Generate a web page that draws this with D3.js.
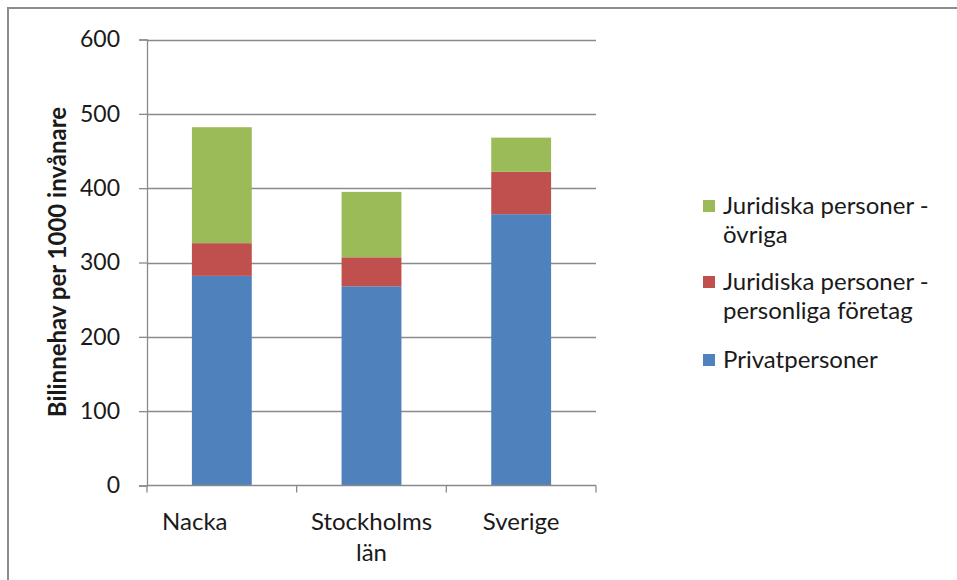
<!DOCTYPE html>
<html>
<head>
<meta charset="utf-8">
<script src="https://cdn.jsdelivr.net/npm/d3@7"></script>
<style>
  html, body { margin: 0; padding: 0; background: #ffffff; }
  svg { display: block; }
  text { font-family: Lato, "Open Sans", sans-serif; fill: #1a1a1a; }
</style>
</head>
<body>
<svg id="chart" width="957" height="580"></svg>
<script>
// ---- data ----
const categories = ["Nacka", "Stockholms län", "Sverige"];
const seriesNames = ["Privatpersoner", "Juridiska personer - personliga företag", "Juridiska personer - övriga"];
const privatpersoner = [282, 268, 365];
const personligaForetag = [44, 39, 57];
const ovriga = [156, 88, 46];
const yTicks = [0, 100, 200, 300, 400, 500, 600];
const yTitle = "Bilinnehav per 1000 invånare";
const colors = ["#4F81BD", "#C0504D", "#9BBB59"];

const seriesValues = [privatpersoner, personligaForetag, ovriga];
const table = categories.map((c, i) => {
  const row = { category: c };
  seriesNames.forEach((s, k) => row[s] = seriesValues[k][i]);
  return row;
});

const svg = d3.select("#chart");

// frame
svg.append("rect").attr("x", 8).attr("y", 8).attr("width", 1000).attr("height", 1000)
  .attr("fill", "none").attr("stroke", "#8c8c8c").attr("stroke-width", 2);

const plot = { left: 147, right: 596, top: 39.5, bottom: 485.5 };

const x = d3.scaleBand().domain(categories).range([plot.left, plot.right]).padding(0);
const y = d3.scaleLinear().domain([0, 600]).range([plot.bottom, plot.top]);

// gridlines
svg.append("g").selectAll("line").data(yTicks.filter(t => t > 0)).join("line")
  .attr("x1", plot.left).attr("x2", plot.right)
  .attr("y1", d => Math.round(y(d)) + 0.5).attr("y2", d => Math.round(y(d)) + 0.5)
  .attr("stroke", "#8a8a8a").attr("stroke-width", 1.3);

// stacked bars
const stack = d3.stack().keys(seriesNames);
const stacked = stack(table);
const barW = x.bandwidth() * 0.4;
svg.append("g").selectAll("g").data(stacked).join("g")
  .attr("fill", (d, i) => colors[i])
  .selectAll("rect").data(d => d).join("rect")
  .attr("x", d => x(d.data.category) + (x.bandwidth() - barW) / 2)
  .attr("width", barW)
  .attr("y", d => y(d[1]))
  .attr("height", d => y(d[0]) - y(d[1]));

// y axis
const yAxis = d3.axisLeft(y).tickValues(yTicks).tickSize(8).tickPadding(19).tickFormat(d3.format("d"));
const gy = svg.append("g").attr("transform", `translate(${plot.left},0)`).call(yAxis);
gy.select(".domain").attr("stroke", "#8a8a8a").attr("stroke-width", 1.3);
gy.selectAll(".tick line").attr("stroke", "#8a8a8a").attr("stroke-width", 1.3);
gy.selectAll(".tick text").style("font-size", "23px").style("font-family", "Lato, sans-serif").attr("fill", "#1a1a1a");

// x axis
const xAxis = d3.axisBottom(x).tickSize(0).tickFormat("");
const gx = svg.append("g").attr("transform", `translate(0,${plot.bottom})`).call(xAxis);
gx.select(".domain").attr("stroke", "#8a8a8a").attr("stroke-width", 1.3).attr("d", `M${plot.left},0H${plot.right}`);
gx.selectAll(".tick").remove();
const boundaries = categories.map(c => x(c)).concat([x(categories[categories.length - 1]) + x.bandwidth()]);
gx.selectAll("line.bound").data(boundaries).join("line").attr("class", "bound")
  .attr("x1", d => d).attr("x2", d => d).attr("y1", 0).attr("y2", 7)
  .attr("stroke", "#8a8a8a").attr("stroke-width", 1.3);

// category labels (wrapped)
const labelOffsets = { "Nacka": -27 };
const catG = svg.append("g");
categories.forEach(c => {
  const words = c.split(" ");
  const cx = x(c) + x.bandwidth() / 2 + (labelOffsets[c] || 0);
  const t = catG.append("text")
    .attr("x", cx)
    .attr("y", 530)
    .attr("text-anchor", "middle")
    .style("font-size", "24px");
  words.forEach((w, i) => {
    t.append("tspan").attr("x", cx).attr("dy", i === 0 ? 0 : 31).text(w);
  });
});

// y title
svg.append("text")
  .attr("transform", `translate(66,262) rotate(-90)`)
  .attr("text-anchor", "middle")
  .style("font-size", "24px").style("font-weight", "bold")
  .text(yTitle);

// legend (reverse order, green first)
const legendEntries = [
  { name: seriesNames[2], lines: ["Juridiska personer -", "övriga"], color: colors[2], y: 214 },
  { name: seriesNames[1], lines: ["Juridiska personer -", "personliga företag"], color: colors[1], y: 290 },
  { name: seriesNames[0], lines: ["Privatpersoner"], color: colors[0], y: 368 }
];
const lg = svg.append("g");
legendEntries.forEach(e => {
  lg.append("rect").attr("x", 703).attr("y", e.y - 14).attr("width", 12).attr("height", 12).attr("fill", e.color);
  const t = lg.append("text").attr("x", 723).attr("y", e.y).style("font-size", "24px");
  e.lines.forEach((l, i) => t.append("tspan").attr("x", 723).attr("dy", i === 0 ? 0 : 29).text(l));
});
</script>
</body>
</html>
